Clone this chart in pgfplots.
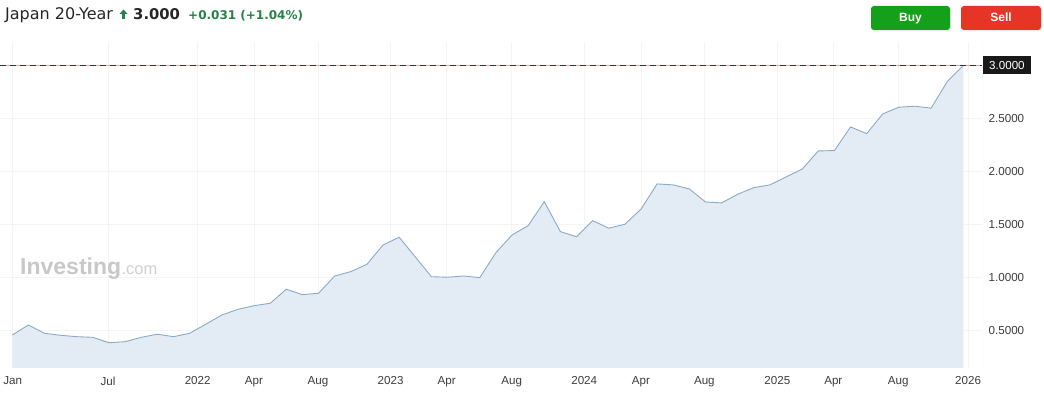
\documentclass[border=0pt]{standalone}
\usepackage{fontspec}
\setmainfont{Liberation Sans}
\newfontfamily\dejavu{DejaVu Sans}
\usepackage{pgfplots}
\usepackage{pgfplotstable}
\pgfplotsset{compat=1.18}
\definecolor{linec}{RGB}{140,170,198}
\definecolor{fillc}{RGB}{227,236,244}
\definecolor{gridc}{RGB}{244,244,244}
\definecolor{tickc}{RGB}{60,60,60}
\definecolor{bordc}{RGB}{222,222,222}
\definecolor{upgreen}{RGB}{38,130,70}
\definecolor{buyc}{RGB}{20,160,25}
\definecolor{sellc}{RGB}{230,52,38}
\definecolor{markc}{RGB}{200,200,200}
\definecolor{refline}{RGB}{215,170,165}

\pgfplotstableread{
idx val
0 0.460
1 0.554
2 0.476
3 0.457
4 0.444
5 0.438
6 0.387
7 0.397
8 0.438
9 0.467
10 0.444
11 0.476
12 0.561
13 0.648
14 0.702
15 0.736
16 0.759
17 0.891
18 0.840
19 0.853
20 1.016
21 1.057
22 1.126
23 1.308
24 1.381
25 1.195
26 1.009
27 1.004
28 1.016
29 1.000
30 1.236
31 1.402
32 1.490
33 1.716
34 1.434
35 1.386
36 1.537
37 1.466
38 1.503
39 1.645
40 1.883
41 1.874
42 1.836
43 1.713
44 1.704
45 1.786
46 1.848
47 1.874
48 1.949
49 2.022
50 2.194
51 2.197
52 2.420
53 2.357
54 2.543
55 2.606
56 2.615
57 2.597
58 2.847
59 3.000
}\yields

\begin{document}
\begin{tikzpicture}[x=1pt,y=1pt]
\path[use as bounding box] (0,0) rectangle (1044,403);

% header
\node[anchor=base west, inner sep=0pt, font=\dejavu\fontsize{16}{18}\selectfont, text=black!85] at (5,383) {Japan 20-Year};
\fill[upgreen] (119.5,389) -- (127.5,389) -- (123.5,393.5) -- cycle;
\fill[upgreen] (121.8,384) rectangle (125.2,389.2);
\node[anchor=base west, inner sep=0pt, font=\dejavu\bfseries\fontsize{14.8}{17}\selectfont, text=black!85] at (133,383) {3.000};
\node[anchor=base west, inner sep=0pt, font=\dejavu\bfseries\fontsize{12}{14}\selectfont, text=upgreen] at (188,383) {+0.031 (+1.04\%)};

% buttons
\fill[black!8, rounded corners=3pt] (871,371.5) rectangle (951,396.5);
\fill[buyc, rounded corners=3pt] (871,373) rectangle (950,397);
\node[anchor=base, inner sep=0pt, font=\bfseries\fontsize{12}{14}\selectfont, text=white] at (910.5,381) {Buy};
\fill[black!8, rounded corners=3pt] (961,371.5) rectangle (1042,396.5);
\fill[sellc, rounded corners=3pt] (961,373) rectangle (1041,397);
\node[anchor=base, inner sep=0pt, font=\bfseries\fontsize{12}{14}\selectfont, text=white] at (1001,381) {Sell};

\begin{axis}[
  at={(0pt,35pt)}, anchor=south west,
  scale only axis, width=982pt, height=326pt,
  xmin=-0.763, xmax=60.155, ymin=0.149, ymax=3.22,
  axis line style={draw=none},
  tick style={draw=none},
  major tick length=0pt,
  xmajorgrids, ymajorgrids,
  grid style={color=gridc, line width=0.7pt},
  ytick={0.5,1,1.5,2,2.5},
  yticklabel pos=right,
  yticklabel style={anchor=west, inner sep=0pt, xshift=6.5pt,
    font=\fontsize{11.6}{13}\selectfont, text=tickc,
    /pgf/number format/fixed, /pgf/number format/fixed zerofill,
    /pgf/number format/precision=4, /pgf/number format/assume math mode=true},
  xtick={0.025,5.94,11.50,14.99,18.96,23.47,26.95,30.98,35.48,39.0,42.93,47.46,50.93,54.96,59.29},
  xticklabels={Jan,Jul,2022,Apr,Aug,2023,Apr,Aug,2024,Apr,Aug,2025,Apr,Aug,2026},
  xticklabel style={anchor=north, inner sep=0pt, yshift=-8.5pt,
    font=\fontsize{11.6}{13}\selectfont, text=tickc},
  clip=true,
]
\addplot[draw=none, fill=fillc] table[x=idx, y=val] {\yields} \closedcycle;
\addplot[linec, line width=0.9pt, mark=none] table[x=idx, y=val] {\yields};
\addplot[refline, line width=0.9pt, mark=none] coordinates {(-0.763,3) (60.155,3)};
\addplot[black!80, line width=0.8pt, mark=none, dash pattern=on 6pt off 4pt] coordinates {(-0.763,3) (60.155,3)};
\draw[bordc, line width=0.8pt] (rel axis cs:1,0) -- (rel axis cs:1,1);
\end{axis}

% current value label
\node[anchor=west, fill=black!90, text=white, inner xsep=6pt, inner ysep=0pt, minimum height=18pt,
  font=\fontsize{11.6}{13}\selectfont] at (983,337.5) {3.0000};

% watermark
\node[anchor=base west, inner sep=0pt, text=markc, font=\bfseries\fontsize{23}{26}\selectfont] (inv) at (20,128) {Investing};
\node[anchor=base west, inner sep=0pt, text=markc!85, font=\fontsize{16.5}{19}\selectfont] at (inv.base east) {.com};
\end{tikzpicture}
\end{document}
